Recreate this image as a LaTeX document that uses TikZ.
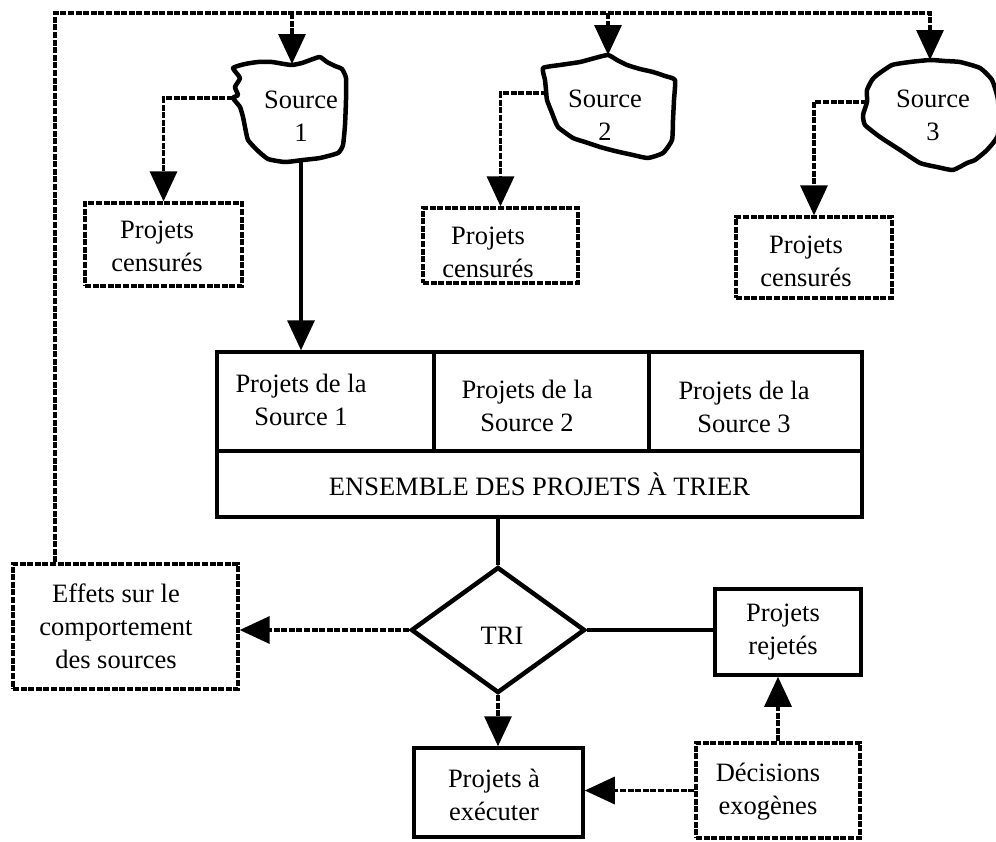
\documentclass[tikz,border=0pt]{standalone}
\usepackage{fontspec}
\setmainfont{Liberation Serif}
\usetikzlibrary{arrows.meta,shapes.geometric}

\tikzset{
  dline/.style={line width=3.3pt, dash pattern=on 6pt off 1.6pt},
  sline/.style={line width=3.5pt},
  arr/.style={-{Triangle[length=30pt,width=27pt]}},
  sbox/.style={rectangle, draw, line width=3.5pt, inner sep=0pt, align=center},
  dbox/.style={sbox, line width=3.3pt, dash pattern=on 6pt off 1.6pt},
  blob/.style={line width=4.5pt, line join=round},
  lbl/.style={align=center, inner sep=0pt},
}

\begin{document}
\begin{tikzpicture}[x=1pt, y=-1pt, font=\fontsize{26.5}{33}\selectfont]
\useasboundingbox (0,0) rectangle (996,841);

% --- the three sources (irregular outlines) ---
\draw[blob] plot[smooth cycle, tension=0.3] coordinates {
  (233,68) (245,64) (258,62) (272,62) (284,64) (292,65) (302,63) (313,59)
  (320,57) (327,62) (335,66) (342,69) (346,78) (346,100) (345,125) (343,145)
  (338,153) (320,158) (303,160) (285,162) (268,159) (257,150) (248,140)
  (245,127) (243,117) (240,107) (233,98) (238,95) (235,87) (240,78)};
\draw[blob] plot[smooth cycle, tension=0.3] coordinates {
  (543,68) (560,65) (580,62) (595,58) (608,55) (617,60) (627,65) (640,69)
  (653,72) (665,76) (675,80) (674,100) (673,120) (672,140) (663,153)
  (648,158) (633,155) (615,151) (600,147) (585,142) (573,138) (558,127)
  (552,113) (547,100) (546,90) (545,80)};
\draw[blob] plot[smooth cycle, tension=0.3] coordinates {
  (892,65) (910,62) (930,60) (945,61) (960,62) (980,68) (992,80) (998,100)
  (998,135) (987,150) (975,160) (967,163) (953,170) (937,167) (920,163)
  (900,150) (880,137) (865,125) (863,115) (867,102) (867,90) (872,80) (877,75)};

\node[lbl] (src1) at (301,116) {Source\\1};
\node[lbl] (src2) at (605,115) {Source\\2};
\node[lbl] (src3) at (933,115) {Source\\3};

% attachment points on the source outlines
\coordinate (s1top) at (292,64);
\coordinate (s1left) at (233,98);
\coordinate (s1bot) at (301,160);
\coordinate (s2top) at (608,55);
\coordinate (s2left) at (547,93);
\coordinate (s3top) at (930,60);
\coordinate (s3left) at (867,102);

% --- censored projects ---
\node[dbox, minimum width=157pt, minimum height=83pt] (cens1) at (163.5,244.5) {};
\node[dbox, minimum width=155pt, minimum height=75pt] (cens2) at (500.5,245.5) {};
\node[dbox, minimum width=156pt, minimum height=81pt] (cens3) at (814,257.5) {};
\node[lbl] (ct1) at (157,246) {Projets\\censurés};
\node[lbl] (ct2) at (488,252) {Projets\\censurés};
\node[lbl] (ct3) at (806,261) {Projets\\censurés};

% --- set of projects to sort ---
\node[sbox, minimum width=217pt, minimum height=99pt] (c1) at (325.5,401.5) {};
\node[sbox, minimum width=215pt, minimum height=99pt] (c2) at (541.5,401.5) {};
\node[sbox, minimum width=213pt, minimum height=99pt] (c3) at (755.5,401.5) {};
\node[sbox, minimum width=645pt, minimum height=66pt] (ens) at (539.5,484) {ENSEMBLE DES PROJETS À TRIER};
\node[lbl] (t1) at (301,400) {Projets de la\\Source 1};
\node[lbl] (t2) at (527,406) {Projets de la\\Source 2};
\node[lbl] (t3) at (744,407) {Projets de la\\Source 3};

% --- sorting and outcomes ---
\node[diamond, draw, line width=4.5pt, minimum width=174pt, minimum height=126pt, inner sep=0pt] (tri) at (498,630) {};
\node[lbl] (trit) at (502,636) {TRI};
\node[dbox, minimum width=225pt, minimum height=125pt] (eff) at (125.5,626.5) {};
\node[lbl] (efft) at (116,626) {Effets sur le\\comportement\\des sources};
\node[sbox, minimum width=146pt, minimum height=86pt] (rej) at (788,632) {};
\node[lbl] (rejt) at (783,632) {Projets\\rejetés};
\node[sbox, minimum width=169pt, minimum height=89pt] (exe) at (498.5,792.5) {};
\node[lbl] (exet) at (494,795) {Projets à\\exécuter};
\node[dbox, minimum width=164pt, minimum height=95pt] (dec) at (778,790.5) {};
\node[lbl] (dect) at (768,792) {Décisions\\exogènes};

% --- feedback loop to the sources ---
\coordinate (loopx) at (55,13);
\draw[dline, arr] (eff.north -| loopx) |- (s3top |- loopx) -- (s3top);
\draw[dline, arr] (s1top |- loopx) -- (s1top);
\draw[dline, arr] (s2top |- loopx) -- (s2top);

% --- sources to censored projects ---
\draw[dline, arr] (s1left) -| (cens1.north);
\draw[dline, arr] (s2left) -| (cens2.north);
\draw[dline, arr] (s3left) -| (cens3.north);

% --- source 1 into the set ---
\draw[sline, arr] (s1bot) -- (s1bot |- c1.north);

% --- set into sorting ---
\draw[sline] (tri.north |- ens.south) -- (tri.north);

% --- sorting outputs ---
\draw[dline, arr] (tri.west) -- (tri.west -| eff.east);
\draw[sline] (tri.east) -- (tri.east -| rej.west);
\draw[dline, arr] (tri.south) -- (tri.south |- exe.north);

% --- exogenous decisions ---
\draw[dline, arr] (dec.west) -- (dec.west -| exe.east);
\draw[dline, arr] (dec.north) -- (dec.north |- rej.south);
\end{tikzpicture}
\end{document}
